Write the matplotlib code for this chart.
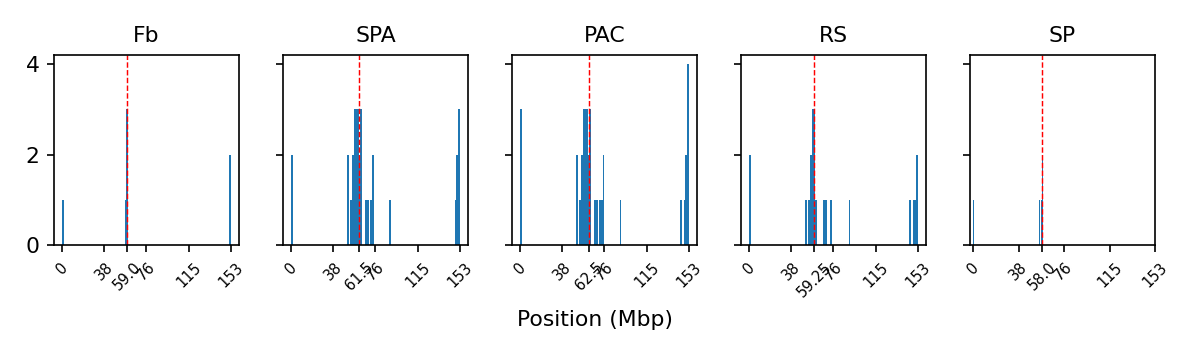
import matplotlib
matplotlib.use("Agg")
import matplotlib.pyplot as plt
import numpy as np

titles = ["Fb", "SPA", "PAC", "RS", "SP"]
marker_pos = [59.0, 61.5, 62.5, 59.25, 58.0]
marker_labels = ["59.0", "61.5", "62.5", "59.25", "58.0"]
base_ticks = [0, 38, 76, 115, 153]
base_labels = ["0", "38", "76", "115", "153"]

pos_fb = [0.2, 57.4, 58.9, 58.9, 59.0, 152.5, 152.9]
pos_spa = [0.2, 0.8, 51.3, 51.3, 54.3, 55.85, 55.85,
           57.4, 57.4, 57.4, 58.9, 58.9, 58.9, 60.4, 60.4, 60.4,
           61.97, 61.97, 63.5, 63.5, 63.5, 68.1, 69.6, 72.7, 74.2, 74.2,
           89.5, 149.2, 150.7, 150.7, 152.2, 152.2, 152.9]
pos_pac = [0.2, 0.8, 0.8, 51.3, 51.3, 54.3, 55.85, 55.85,
           57.4, 57.4, 57.4, 58.9, 58.9, 58.9, 60.4, 60.4, 60.4,
           61.97, 61.97, 63.5, 63.5, 63.5, 68.1, 69.6, 72.7, 74.2, 75.7, 75.7,
           91.0, 146.1, 149.2, 150.7, 150.7, 152.2, 152.2, 152.2, 152.9]
pos_rs = [0.2, 0.8, 51.3, 54.3, 55.85, 55.85, 57.4, 57.4, 57.4,
          58.9, 58.9, 58.9, 60.4, 68.1, 69.6, 74.2, 91.0,
          146.1, 149.2, 150.7, 152.2, 152.9]
pos_sp = [0.0, 55.9, 57.6, 58.5, 58.5]

positions = [pos_fb, pos_spa, pos_pac, pos_rs, pos_sp]

fig, axes = plt.subplots(1, 5, sharey=True, figsize=(1190 / 150, 353 / 150), dpi=150)
fig.subplots_adjust(left=54 / 1190, right=1155 / 1190, top=1 - 55 / 353,
                    bottom=1 - 245 / 353, wspace=44 / 185)

for ax, t, pos, mp, ml in zip(axes, titles, positions, marker_pos, marker_labels):
    ax.hist(pos, bins=100, color="#1f77b4")
    ax.axvline(mp, color="red", linestyle="--", linewidth=0.7)
    ax.set_title(t, fontsize=10.5)
    ax.set_xticks(base_ticks + [mp])
    ax.set_xticklabels(base_labels + [ml], rotation=45, fontsize=7)
    ax.tick_params(axis="y", labelsize=10.5)

axes[0].set_yticks([0, 2, 4])
axes[0].set_ylim(0, 4.2)
fig.supxlabel("Position (Mbp)", fontsize=10.5, y=0.065)

fig.savefig("out.png", dpi=150)
